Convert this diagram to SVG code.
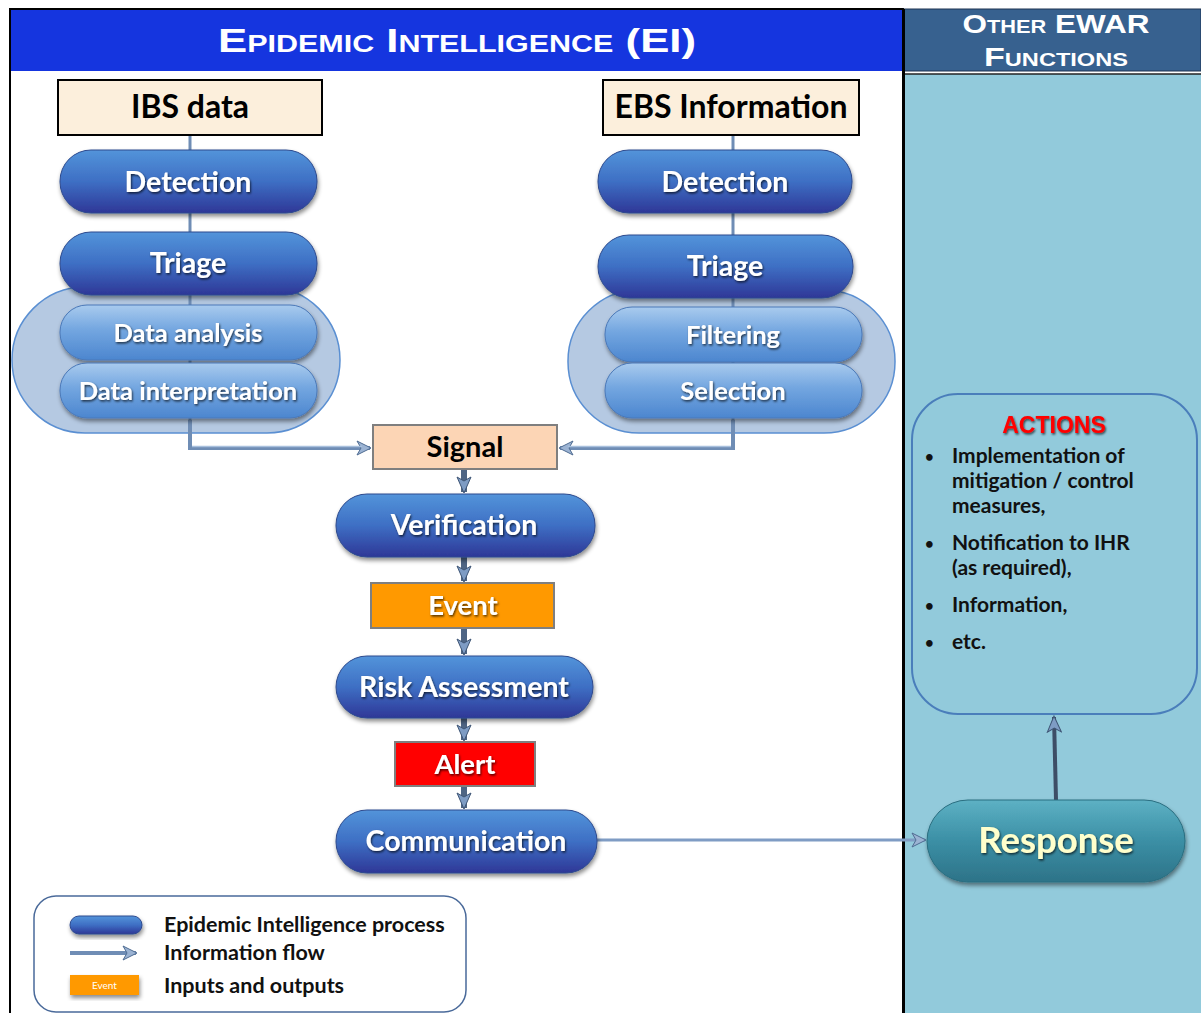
<svg xmlns="http://www.w3.org/2000/svg" width="1201" height="1013" viewBox="0 0 1201 1013">
<defs>
<linearGradient id="gDark" x1="0" y1="0" x2="0" y2="1">
<stop offset="0" stop-color="#5394DA"/><stop offset="0.5" stop-color="#3E6FC4"/><stop offset="1" stop-color="#2E3797"/>
</linearGradient>
<linearGradient id="gLight" x1="0" y1="0" x2="0" y2="1">
<stop offset="0" stop-color="#A9CBEE"/><stop offset="0.45" stop-color="#73A6E0"/><stop offset="1" stop-color="#4C86CF"/>
</linearGradient>
<linearGradient id="gTeal" x1="0" y1="0" x2="0" y2="1">
<stop offset="0" stop-color="#5DB1C4"/><stop offset="0.5" stop-color="#3B8FA5"/><stop offset="1" stop-color="#2D7388"/>
</linearGradient>
<filter id="sh" x="-10%" y="-20%" width="120%" height="150%">
<feDropShadow dx="1" dy="3" stdDeviation="2" flood-color="#000" flood-opacity="0.45"/>
</filter>
<filter id="tsh" x="-10%" y="-20%" width="120%" height="150%">
<feDropShadow dx="1" dy="1.5" stdDeviation="0.8" flood-color="#000" flood-opacity="0.7"/>
</filter>
<marker id="ah" viewBox="0 0 16 16" refX="14" refY="8" markerWidth="16" markerHeight="16" markerUnits="userSpaceOnUse" orient="auto">
<path d="M1,1 L15,8 L1,15 L5,8 Z" fill="#9BB3D3" stroke="#4F6C92" stroke-width="1"/>
</marker>
<marker id="ahd" viewBox="0 0 18 16" refX="16" refY="8" markerWidth="18" markerHeight="16" markerUnits="userSpaceOnUse" orient="auto">
<path d="M1,1 L17,8 L1,15 L5,8 Z" fill="#7E9CC4" stroke="#3E5575" stroke-width="1"/>
</marker>
</defs>
<style>
.pill{fill:url(#gDark);stroke:#2D4A8E;stroke-width:1;filter:url(#sh)}
.lpill{fill:url(#gLight);stroke:#4A78B8;stroke-width:1;filter:url(#sh)}
.wt{font-family:Lato,"Liberation Sans",sans-serif;font-weight:bold;fill:#fff;text-anchor:middle;filter:url(#tsh)}
.bt{font-family:Lato,"Liberation Sans",sans-serif;font-weight:bold;fill:#000;text-anchor:middle}
.lt{font-family:Lato,"Liberation Sans",sans-serif;font-weight:bold;fill:#111;font-size:21px}
.lg{font-family:Lato,"Liberation Sans",sans-serif;font-weight:bold;fill:#111;font-size:21.5px}
.bul{font-size:15px}
.conn{fill:none;stroke:#6F8DB5;stroke-width:4}
.connIn{fill:none;stroke:#A8C0DD;stroke-width:1.5}
.down{fill:none;stroke:#4E6584;stroke-width:6}
.cloud{fill:#B5C9E2;stroke:#5A8FD2;stroke-width:1.5}
.hdr{font-family:"Liberation Sans",Arial,sans-serif;font-weight:900;fill:#fff;text-anchor:middle;font-variant:small-caps}
</style>

<rect x="0" y="0" width="1201" height="1013" fill="#fff"/>
<g id="panel-ei">
<rect x="10" y="9" width="893" height="1010" fill="#fff" stroke="#000" stroke-width="2"/>
<rect x="11" y="10" width="891" height="61" fill="#1535DF"/>
<text class="hdr" x="457" y="52" font-size="33" textLength="478" lengthAdjust="spacingAndGlyphs">Epidemic Intelligence (EI)</text>
</g>
<g id="panel-other">
<rect x="904" y="9" width="297" height="62" fill="#37618F" stroke="#1E3552" stroke-width="1"/>
<rect x="904" y="74" width="297" height="945" fill="#92CADB"/>
<line x1="904" y1="74" x2="1201" y2="74" stroke="#222" stroke-width="1.5"/>
<line x1="904" y1="9" x2="904" y2="1013" stroke="#000" stroke-width="2"/>
<text class="hdr" x="1056" y="33" font-size="26" textLength="187" lengthAdjust="spacingAndGlyphs">Other EWAR</text>
<text class="hdr" x="1056" y="66" font-size="26" textLength="144" lengthAdjust="spacingAndGlyphs">Functions</text>
</g>

<g id="cloud-left"><rect class="cloud" x="12" y="287" width="328" height="146" rx="73"/></g>
<g id="cloud-right"><rect class="cloud" x="568" y="290" width="327" height="143" rx="71"/></g>

<g id="connectors">
<line x1="190" y1="135" x2="190" y2="420" stroke="#6F8DB5" stroke-width="3"/>
<line x1="733" y1="135" x2="733" y2="420" stroke="#6F8DB5" stroke-width="3"/>
<path class="conn" d="M190,420 V448 H370" marker-end="url(#ah)"/>
<path class="connIn" d="M192,446.5 H362"/>
<path class="conn" d="M733,420 V448 H560" marker-end="url(#ah)"/>
<path class="connIn" d="M731,446.5 H568"/>
<line class="down" x1="464" y1="469" x2="464" y2="492" marker-end="url(#ahd)"/>
<line class="down" x1="464" y1="557" x2="464" y2="581" marker-end="url(#ahd)"/>
<line class="down" x1="464" y1="628" x2="464" y2="654" marker-end="url(#ahd)"/>
<line class="down" x1="464" y1="718" x2="464" y2="740" marker-end="url(#ahd)"/>
<line class="down" x1="464" y1="786" x2="464" y2="808" marker-end="url(#ahd)"/>
<line x1="597" y1="840" x2="925" y2="840" stroke="#7F9CC4" stroke-width="3" marker-end="url(#ah)"/>
<line x1="1056" y1="800" x2="1054" y2="717" stroke="#3D4E66" stroke-width="4" marker-end="url(#ahd)"/>
</g>

<g id="ibs-data"><rect x="58" y="80" width="264" height="55" fill="#FCEFDC" stroke="#000" stroke-width="2"/><text class="bt" x="190" y="118" font-size="32">IBS data</text></g>
<g id="ibs-detection"><rect class="pill" x="60" y="150" width="257" height="63" rx="31"/><text class="wt" x="188" y="192" font-size="28.5">Detection</text></g>
<g id="ibs-triage"><rect class="pill" x="60" y="232" width="257" height="63" rx="31"/><text class="wt" x="188" y="273" font-size="28.5">Triage</text></g>
<g id="data-analysis"><rect class="lpill" x="60" y="305" width="257" height="55" rx="27"/><text class="wt" x="188" y="342" font-size="25.5">Data analysis</text></g>
<g id="data-interpretation"><rect class="lpill" x="60" y="363" width="257" height="55" rx="27"/><text class="wt" x="188" y="400" font-size="25.5">Data interpretation</text></g>

<g id="ebs-information"><rect x="603" y="80" width="256" height="55" fill="#FCEFDC" stroke="#000" stroke-width="2"/><text class="bt" x="731" y="118" font-size="32">EBS Information</text></g>
<g id="ebs-detection"><rect class="pill" x="598" y="150" width="254" height="63" rx="31"/><text class="wt" x="725" y="192" font-size="28.5">Detection</text></g>
<g id="ebs-triage"><rect class="pill" x="598" y="235" width="255" height="63" rx="31"/><text class="wt" x="725" y="276" font-size="28.5">Triage</text></g>
<g id="filtering"><rect class="lpill" x="605" y="307" width="257" height="55" rx="27"/><text class="wt" x="733" y="344" font-size="25.5">Filtering</text></g>
<g id="selection"><rect class="lpill" x="605" y="363" width="257" height="55" rx="27"/><text class="wt" x="733" y="400" font-size="25.5">Selection</text></g>

<g id="signal"><rect x="373" y="425" width="184" height="44" fill="#FCD5B5" stroke="#7F7F7F" stroke-width="2"/><text class="bt" x="465" y="457" font-size="29">Signal</text></g>
<g id="verification"><rect class="pill" x="336" y="494" width="259" height="63" rx="31"/><text class="wt" x="464" y="535" font-size="28.5">Verification</text></g>
<g id="event"><rect x="371" y="583" width="183" height="45" fill="#FF9900" stroke="#7F7F7F" stroke-width="2"/><text class="wt" x="463" y="615" font-size="27.5">Event</text></g>
<g id="risk-assessment"><rect class="pill" x="336" y="656" width="257" height="62" rx="31"/><text class="wt" x="464" y="697" font-size="28.5">Risk Assessment</text></g>
<g id="alert"><rect x="395" y="742" width="140" height="44" fill="#FF0000" stroke="#7F7F7F" stroke-width="2"/><text class="wt" x="465" y="774" font-size="27.5">Alert</text></g>
<g id="communication"><rect class="pill" x="336" y="810" width="261" height="63" rx="31"/><text class="wt" x="466" y="851" font-size="28.5">Communication</text></g>

<g id="response"><rect x="927" y="800" width="258" height="82" rx="41" fill="url(#gTeal)" stroke="#2A6E80" stroke-width="1" filter="url(#sh)"/><text x="1056" y="853" font-family="Lato,'Liberation Sans',sans-serif" font-weight="bold" font-size="36.5" fill="#FFFFCC" text-anchor="middle" filter="url(#tsh)">Response</text></g>
<g id="actions">
<rect x="912" y="394" width="285" height="320" rx="46" fill="#92CADB" stroke="#4A7EBB" stroke-width="2"/>
<text x="1054" y="433" font-family="'Liberation Sans',Arial,sans-serif" font-weight="900" font-size="23" fill="#FF0000" text-anchor="middle" filter="url(#tsh)">ACTIONS</text>
<g class="lt">
<text class="bul" x="925" y="462">•</text><text x="952" y="463">Implementation of</text>
<text x="952" y="488">mitigation / control</text>
<text x="952" y="513">measures,</text>
<text class="bul" x="925" y="549">•</text><text x="952" y="550">Notification to IHR</text>
<text x="952" y="575">(as required),</text>
<text class="bul" x="925" y="611">•</text><text x="952" y="612">Information,</text>
<text class="bul" x="925" y="648">•</text><text x="952" y="649">etc.</text>
</g>
</g>

<g id="legend">
<rect x="34" y="896" width="432" height="116" rx="22" fill="#fff" stroke="#4A6A9A" stroke-width="1.5"/>
<rect class="pill" x="70" y="916" width="72" height="18" rx="9"/>
<line x1="70" y1="953" x2="136" y2="953" stroke="#6F8DB5" stroke-width="4" marker-end="url(#ah)"/>
<rect x="70" y="975" width="69" height="20" fill="#FF9900" filter="url(#sh)"/>
<text x="104.5" y="989" font-family="Lato,'Liberation Sans',sans-serif" font-size="10" fill="#fff" text-anchor="middle">Event</text>
<text class="lg" x="164" y="932">Epidemic Intelligence process</text>
<text class="lg" x="164" y="960">Information flow</text>
<text class="lg" x="164" y="993">Inputs and outputs</text>
</g>
</svg>
